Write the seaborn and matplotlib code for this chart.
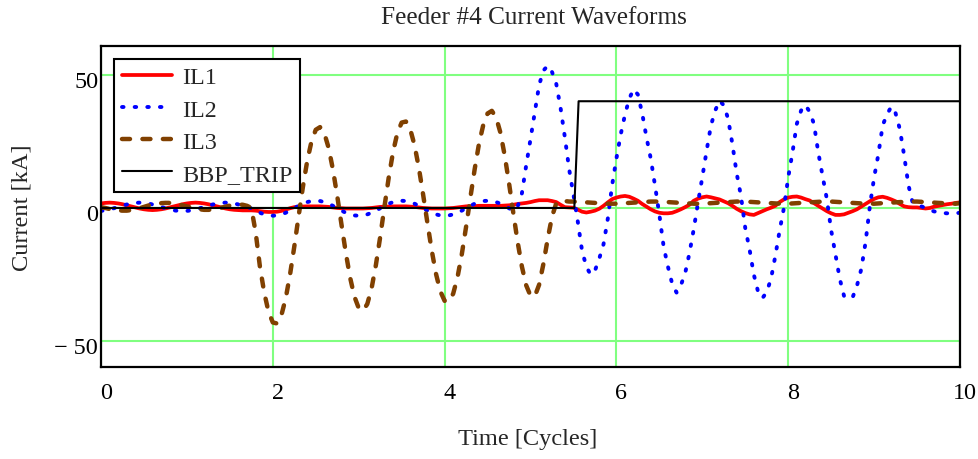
import numpy as np
import pandas as pd
import seaborn as sns
import matplotlib.pyplot as plt
from matplotlib.transforms import ScaledTranslation

t = np.linspace(0, 10, 201)

il1 = [1.7, 1.9, 2.0, 1.9, 1.7, 1.4, 1.0, 0.6, 0.2, -0.2, -0.5, -0.7, -0.8, -0.7, -0.5, -0.2, 0.2, 0.6, 1.0, 1.4,
       1.7, 1.9, 2.0, 1.9, 1.7, 1.4, 1.0, 0.6, 0.2, -0.2, -0.5, -0.7, -0.8, -0.9, -0.9, -0.9, -1.0, -1.2, -1.4, -1.5,
       -1.5, -1.4, -1.1, -0.6, -0.1, 0.3, 0.5, 0.55, 0.6, 0.6, 0.6, 0.6, 0.5, 0.4, 0.2, 0.0, -0.1, -0.2, -0.2, -0.2,
       -0.2, -0.2, -0.1, 0.0, 0.2, 0.4, 0.5, 0.55, 0.6, 0.6, 0.6, 0.6, 0.5, 0.4, 0.2, 0.0, -0.1, -0.2, -0.2, -0.2,
       -0.2, -0.1, 0.0, 0.2, 0.4, 0.6, 0.7, 0.7, 0.8, 0.8, 0.8, 0.8, 0.8, 0.8, 0.9, 1.0, 1.2, 1.5, 1.7, 1.9,
       2.2, 2.6, 2.9, 2.9, 2.9, 2.6, 2.2, 1.2, 0.3, 0.2, 0.1, -0.6, -1.4, -1.7, -1.4, -1.0, -0.3, 0.8, 2.1, 3.3,
       3.9, 4.3, 4.5, 4.2, 3.5, 2.7, 1.5, 0.5, -0.5, -1.3, -1.8, -2.0, -2.0, -1.8, -1.2, -0.5, 0.3, 1.2, 2.7, 3.5,
       4.0, 4.3, 4.0, 3.6, 3.2, 2.5, 1.8, 0.8, -0.3, -1.2, -1.9, -2.4, -2.6, -1.9, -1.2, -0.5, 0.1, 0.8, 2.2, 3.2,
       3.9, 4.2, 4.3, 3.9, 3.3, 2.8, 1.8, 0.8, -0.2, -1.2, -2.0, -2.6, -2.6, -2.4, -1.8, -1.2, -0.5, 0.5, 1.5, 2.5,
       3.4, 4.0, 4.2, 3.8, 3.2, 2.5, 1.5, 0.6, 0.3, 0.2, 0.2, 0.0, -0.2, 0.0, 0.5, 0.8, 1.1, 1.4, 1.6, 1.9,
       2.1]

il2 = [-1.1, -0.9, -0.5, -0.1, 0.4, 0.9, 1.3, 1.7, 1.9, 2.0, 1.9, 1.7, 1.3, 0.9, 0.4, -0.1, -0.5, -0.9, -1.1, -1.2,
       -1.1, -0.9, -0.5, -0.1, 0.4, 0.9, 1.3, 1.7, 1.9, 2.0, 1.9, 1.7, 1.3, 0.9, 0.4, -0.1, -1.0, -1.8, -2.4, -2.8,
       -2.9, -2.8, -2.4, -1.8, -1.0, -0.1, 0.8, 1.6, 2.2, 2.6, 2.7, 2.6, 2.2, 1.6, 0.8, -0.1, -1.0, -1.8, -2.4, -2.8,
       -2.9, -2.8, -2.4, -1.8, -1.0, -0.1, 0.8, 1.6, 2.2, 2.6, 2.7, 2.6, 2.2, 1.6, 0.8, -0.1, -1.0, -1.8, -2.4, -2.8,
       -2.9, -2.8, -2.4, -1.8, -1.0, -0.1, 0.8, 1.6, 2.2, 2.6, 2.7, 2.6, 2.2, 1.6, 0.8, -0.1, -1.0, 0.5, 5.5, 16.0,
       25.8, 36.0, 46.0, 51.5, 53.3, 51.0, 46.5, 37.5, 26.5, 14.5, 5.0, -5.0, -16.0, -22.0, -25.0, -23.5, -19.0, -13.6, -4.0, 8.5,
       18.5, 27.5, 35.0, 41.0, 44.5, 42.5, 35.5, 26.5, 18.5, 8.3, -2.5, -14.5, -22.0, -28.5, -31.7, -29.0, -24.5, -17.0, -8.0, 2.0,
       11.5, 21.4, 30.8, 36.5, 40.2, 38.5, 33.5, 24.0, 13.0, 4.5, -7.5, -15.5, -25.0, -31.5, -33.8, -31.5, -26.5, -18.0, -8.5, 0.0,
       11.4, 20.8, 31.5, 36.5, 38.6, 36.0, 31.5, 20.8, 12.1, 3.3, -8.3, -17.5, -26.5, -33.0, -34.0, -33.5, -29.2, -23.0, -13.0, 0.5,
       11.4, 20.2, 31.0, 35.0, 38.0, 35.5, 29.5, 19.6, 8.5, 1.8, 1.0, 0.6, 0.0, -0.8, -1.3, -1.6, -1.9, -2.0, -2.0, -2.0,
       -1.8]

il3 = [0.3, 0.0, -0.4, -0.7, -0.9, -1.0, -1.0, -0.8, -0.5, -0.1, 0.4, 0.9, 1.3, 1.6, 1.8, 1.9, 1.9, 1.7, 1.4, 1.0,
       0.6, 0.2, -0.2, -0.5, -0.7, -0.7, -0.6, -0.3, 0.1, 0.5, 0.9, 1.2, 1.3, 1.2, 0.8, 0.0, -9.0, -22.0, -31.7, -38.9,
       -42.9, -43.3, -40.2, -33.9, -25.1, -14.5, -3.2, 7.8, 17.5, 24.9, 29.3, 30.3, 28.0, 22.5, 14.4, 4.5, -6.3, -16.8, -26.1, -33.2,
       -37.5, -38.5, -36.0, -30.1, -21.4, -10.9, 0.5, 11.5, 21.0, 28.1, 32.0, 32.4, 29.5, 23.5, 15.1, 5.0, -5.6, -15.9, -24.7, -31.2,
       -34.8, -35.1, -32.1, -26.0, -17.4, -7.1, 3.9, 14.5, 24.0, 31.1, 35.4, 36.4, 33.9, 28.2, 19.6, 9.3, -1.9, -12.7, -22.0, -29.0,
       -32.9, -33.1, -28.8, -21.0, -11.6, -3.3, 1.8, 2.7, 2.6, 2.4, 2.4, 2.3, 2.2, 2.1, 2.0, 1.9, 1.8, 1.7, 1.6, 1.6,
       1.6, 1.7, 1.8, 1.9, 2.0, 2.1, 2.2, 2.3, 2.4, 2.4, 2.4, 2.3, 2.2, 2.1, 2.0, 1.9, 1.8, 1.7, 1.6, 1.6,
       1.6, 1.7, 1.8, 1.9, 2.0, 2.1, 2.2, 2.3, 2.4, 2.4, 2.4, 2.3, 2.2, 2.1, 2.0, 1.9, 1.8, 1.7, 1.6, 1.6,
       1.6, 1.7, 1.8, 1.9, 2.0, 2.1, 2.2, 2.3, 2.4, 2.4, 2.4, 2.3, 2.2, 2.1, 2.0, 1.9, 1.8, 1.7, 1.6, 1.6,
       1.6, 1.7, 1.8, 1.9, 2.0, 2.1, 2.2, 2.3, 2.4, 2.4, 2.4, 2.3, 2.2, 2.1, 2.0, 1.9, 1.8, 1.7, 1.6, 1.6,
       1.8]

trip_t = [0, 5.51, 5.56, 10]
trip_v = [0, 0, 40, 40]

x_ticks = [0, 2, 4, 6, 8, 10]
y_ticks = [-50, 0, 50]
y_tick_labels = ['\u2212 50', '0', '50']

# --- Visualization ---
sns.set_style("white")
plt.rcParams['font.family'] = ['Liberation Serif', 'DejaVu Serif']

fig = plt.figure(figsize=(9.79, 4.6), dpi=100)
ax = fig.add_axes([101 / 979, 92 / 460, 859 / 979, 321 / 460])

sns.lineplot(x=t, y=il1, ax=ax, color='#ff0000', linewidth=2.7, label='IL1', estimator=None, sort=False)
sns.lineplot(x=t, y=il2, ax=ax, color='#0000ff', linewidth=2.8, label='IL2', estimator=None, sort=False)
sns.lineplot(x=t, y=il3, ax=ax, color='#804000', linewidth=3.2, label='IL3', estimator=None, sort=False)
sns.lineplot(x=trip_t, y=trip_v, ax=ax, color='black', linewidth=1.5, label='BBP_TRIP', estimator=None, sort=False)

l1, l2, l3, l4 = ax.lines
l2.set_linestyle((0, (0.4, 2.85)))
l2.set_dash_capstyle('round')
l3.set_linestyle((0, (1.8, 2.8)))
l3.set_dash_capstyle('round')

ax.set_xlim(0, 10)
ax.set_ylim(-59.6, 60.7)
ax.set_xticks(x_ticks)
ax.set_yticks(y_ticks)
ax.set_yticklabels(y_tick_labels)
ax.set_xlabel('')
ax.set_ylabel('')
ax.grid(True, color='#80ff80', linewidth=1.5)
ax.set_axisbelow(True)
ax.tick_params(length=0, labelsize=17.4, colors='black')
ax.tick_params(axis='x', pad=10.5)
ax.tick_params(axis='y', pad=2)
for s in ax.spines.values():
    s.set_visible(True)
    s.set_color('black')
    s.set_linewidth(1.6)

# nudge tick labels like the original layout
for lab in ax.get_xticklabels():
    lab.set_transform(lab.get_transform() + ScaledTranslation(5 / 100, 0, fig.dpi_scale_trans))
for lab in ax.get_yticklabels():
    lab.set_transform(lab.get_transform() + ScaledTranslation(0, -4 / 100, fig.dpi_scale_trans))

leg = ax.legend(loc='upper left', frameon=True, fancybox=False, edgecolor='black', framealpha=1,
                fontsize=17.4, handlelength=2.1, handletextpad=0.4, labelspacing=0.42,
                borderpad=0.3, borderaxespad=0.55)
leg.get_frame().set_linewidth(1.5)

fig.text(534 / 979, 1 - 18 / 460, 'Feeder #4 Current Waveforms', ha='center', va='center', fontsize=18.2)
fig.text(528 / 979, 1 - 440 / 460, 'Time [Cycles]', ha='center', va='center', fontsize=17.6)
fig.text(22 / 979, 1 - 208 / 460, 'Current [kA]', ha='center', va='center', rotation=90, fontsize=17.6)

fig.savefig('out.png', dpi=100)
